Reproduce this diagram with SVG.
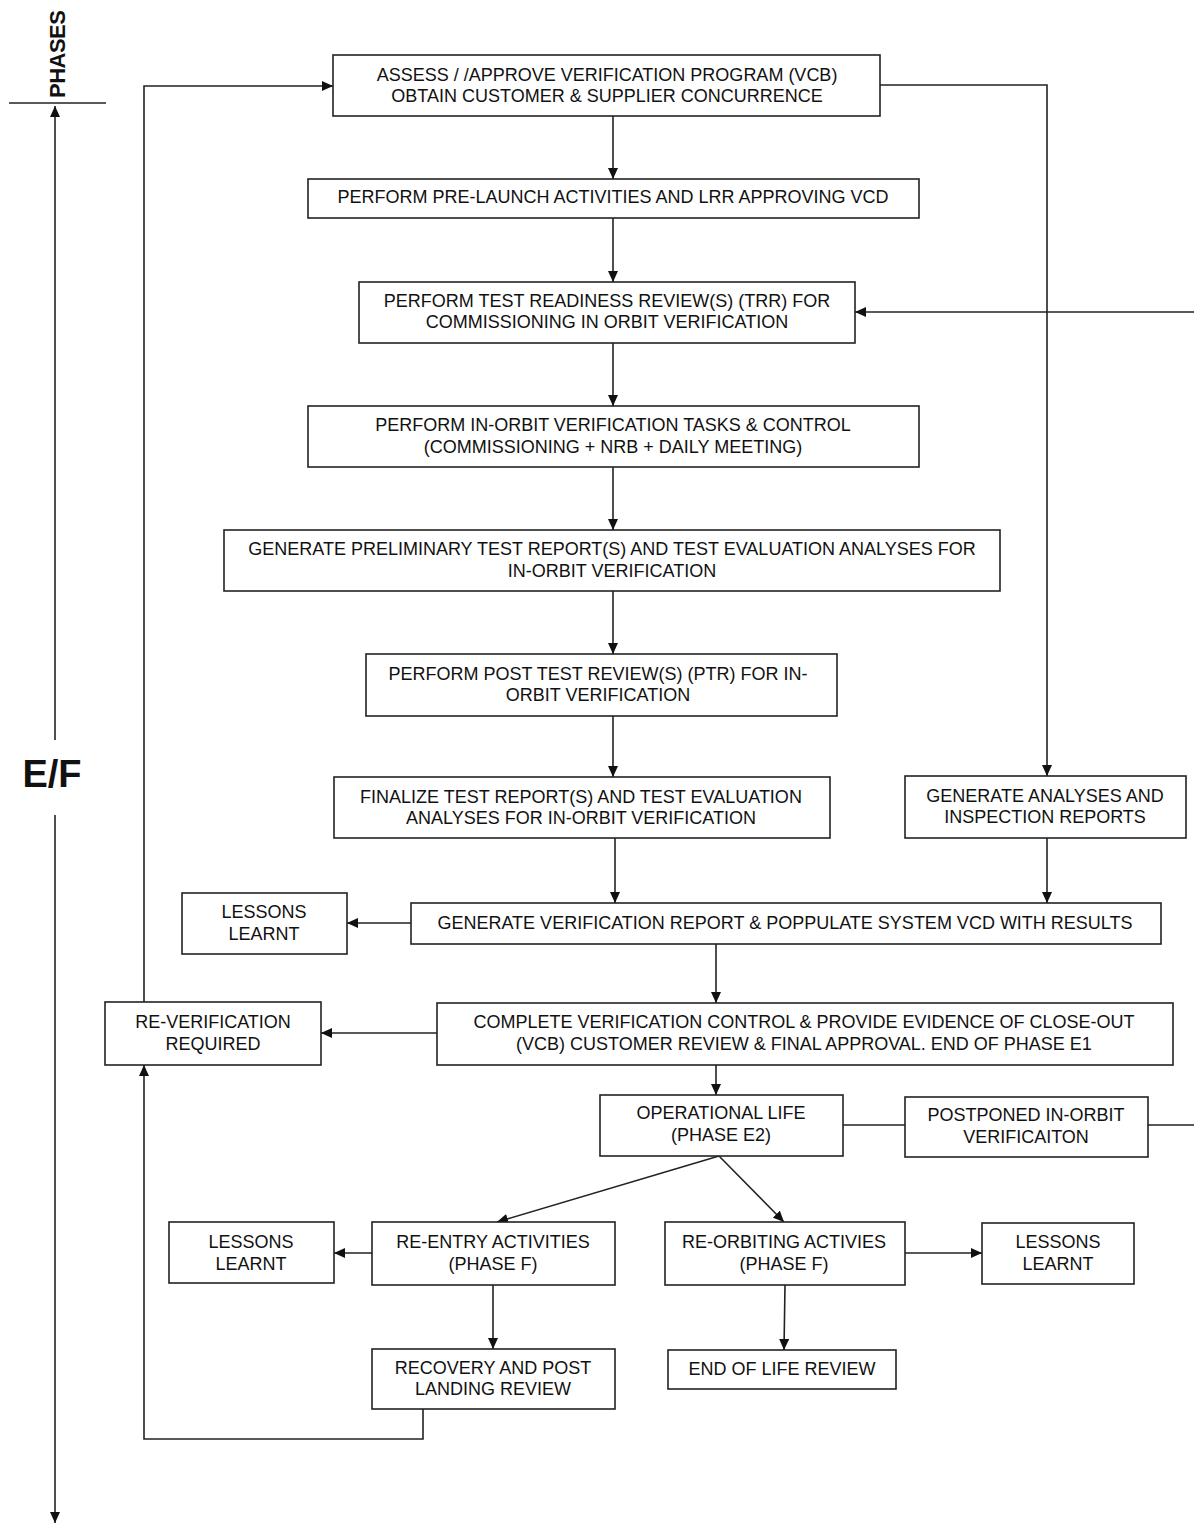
<svg xmlns="http://www.w3.org/2000/svg" width="1194" height="1524" viewBox="0 0 1194 1524">
<defs>
<style>
.box{fill:#fff;stroke:#222;stroke-width:1.6}
.t{font-family:"Liberation Sans",Arial,sans-serif;font-size:18px;fill:#111;text-anchor:middle}
.ln{fill:none;stroke:#222;stroke-width:1.6}
.big{font-family:"Liberation Sans",Arial,sans-serif;font-weight:bold;fill:#111}
</style>
<marker id="ah" markerUnits="userSpaceOnUse" markerWidth="11" markerHeight="10" refX="11" refY="5" orient="auto">
<path d="M0,0 L11,5 L0,10 z" fill="#111"/>
</marker>
</defs>
<rect width="1194" height="1524" fill="#fff"/>

<g id="axis">
<line class="ln" x1="9" y1="103" x2="106" y2="103"/>
<text class="big" font-size="22" transform="translate(65,54) rotate(-90)" text-anchor="middle" textLength="88">PHASES</text>
<line class="ln" x1="55" y1="740" x2="55" y2="106" marker-end="url(#ah)"/>
<line class="ln" x1="55" y1="815" x2="55" y2="1523" marker-end="url(#ah)"/>
<text class="big" font-size="38" x="52" y="787" text-anchor="middle">E/F</text>
</g>

<g id="connectors">
<line class="ln" x1="613" y1="116" x2="613" y2="179" marker-end="url(#ah)"/>
<line class="ln" x1="613" y1="218" x2="613" y2="282" marker-end="url(#ah)"/>
<line class="ln" x1="613" y1="343" x2="613" y2="406" marker-end="url(#ah)"/>
<line class="ln" x1="613" y1="467" x2="613" y2="530" marker-end="url(#ah)"/>
<line class="ln" x1="613" y1="591" x2="613" y2="654" marker-end="url(#ah)"/>
<line class="ln" x1="613" y1="716" x2="613" y2="777" marker-end="url(#ah)"/>
<line class="ln" x1="615" y1="838" x2="615" y2="903" marker-end="url(#ah)"/>
<polyline class="ln" points="880,85 1047,85 1047,776" marker-end="url(#ah)"/>
<line class="ln" x1="1047" y1="838" x2="1047" y2="903" marker-end="url(#ah)"/>
<line class="ln" x1="1194" y1="312" x2="855" y2="312" marker-end="url(#ah)"/>
<line class="ln" x1="411" y1="923" x2="347" y2="923" marker-end="url(#ah)"/>
<line class="ln" x1="716" y1="944" x2="716" y2="1003" marker-end="url(#ah)"/>
<line class="ln" x1="437" y1="1033" x2="321" y2="1033" marker-end="url(#ah)"/>
<line class="ln" x1="716" y1="1065" x2="716" y2="1095" marker-end="url(#ah)"/>
<polyline class="ln" points="144,1002 144,86 333,86" marker-end="url(#ah)"/>
<line class="ln" x1="843" y1="1125" x2="905" y2="1125"/>
<line class="ln" x1="1148" y1="1125" x2="1194" y2="1125"/>
<line class="ln" x1="719" y1="1156" x2="497" y2="1222" marker-end="url(#ah)"/>
<line class="ln" x1="719" y1="1156" x2="784" y2="1222" marker-end="url(#ah)"/>
<line class="ln" x1="372" y1="1253" x2="334" y2="1253" marker-end="url(#ah)"/>
<line class="ln" x1="905" y1="1253" x2="982" y2="1253" marker-end="url(#ah)"/>
<line class="ln" x1="493" y1="1285" x2="493" y2="1349" marker-end="url(#ah)"/>
<line class="ln" x1="785" y1="1285" x2="784" y2="1350" marker-end="url(#ah)"/>
<polyline class="ln" points="423,1405 423,1439 144,1439 144,1065" marker-end="url(#ah)"/>
</g>

<g id="n1"><rect class="box" x="333" y="55" width="547" height="61"/>
<text class="t" x="607" y="81">ASSESS / /APPROVE VERIFICATION PROGRAM (VCB)</text>
<text class="t" x="607" y="102">OBTAIN CUSTOMER &amp; SUPPLIER CONCURRENCE</text></g>

<g id="n2"><rect class="box" x="308" y="179" width="611" height="39"/>
<text class="t" x="613" y="203">PERFORM PRE-LAUNCH ACTIVITIES AND LRR APPROVING VCD</text></g>

<g id="n3"><rect class="box" x="359" y="282" width="496" height="61"/>
<text class="t" x="607" y="307">PERFORM TEST READINESS REVIEW(S) (TRR) FOR</text>
<text class="t" x="607" y="328">COMMISSIONING IN ORBIT VERIFICATION</text></g>

<g id="n4"><rect class="box" x="308" y="406" width="611" height="61"/>
<text class="t" x="613" y="431">PERFORM IN-ORBIT VERIFICATION TASKS &amp; CONTROL</text>
<text class="t" x="613" y="453">(COMMISSIONING + NRB + DAILY MEETING)</text></g>

<g id="n5"><rect class="box" x="224" y="530" width="776" height="61"/>
<text class="t" x="612" y="555">GENERATE PRELIMINARY TEST REPORT(S) AND TEST EVALUATION ANALYSES FOR</text>
<text class="t" x="612" y="577">IN-ORBIT VERIFICATION</text></g>

<g id="n6"><rect class="box" x="366" y="654" width="471" height="62"/>
<text class="t" x="598" y="680">PERFORM POST TEST REVIEW(S) (PTR) FOR IN-</text>
<text class="t" x="598" y="701">ORBIT VERIFICATION</text></g>

<g id="n7"><rect class="box" x="334" y="777" width="496" height="61"/>
<text class="t" x="581" y="803">FINALIZE TEST REPORT(S) AND TEST EVALUATION</text>
<text class="t" x="581" y="824">ANALYSES FOR IN-ORBIT VERIFICATION</text></g>

<g id="n8"><rect class="box" x="905" y="776" width="281" height="62"/>
<text class="t" x="1045" y="802">GENERATE ANALYSES AND</text>
<text class="t" x="1045" y="823">INSPECTION REPORTS</text></g>

<g id="n9"><rect class="box" x="411" y="903" width="750" height="41"/>
<text class="t" x="785" y="929">GENERATE VERIFICATION REPORT &amp; POPPULATE SYSTEM VCD WITH RESULTS</text></g>

<g id="n10"><rect class="box" x="182" y="893" width="165" height="61"/>
<text class="t" x="264" y="918">LESSONS</text>
<text class="t" x="264" y="940">LEARNT</text></g>

<g id="n11"><rect class="box" x="437" y="1003" width="736" height="62"/>
<text class="t" x="804" y="1028">COMPLETE VERIFICATION CONTROL &amp; PROVIDE EVIDENCE OF CLOSE-OUT</text>
<text class="t" x="804" y="1050">(VCB) CUSTOMER REVIEW &amp; FINAL APPROVAL. END OF PHASE E1</text></g>

<g id="n12"><rect class="box" x="105" y="1002" width="216" height="63"/>
<text class="t" x="213" y="1028">RE-VERIFICATION</text>
<text class="t" x="213" y="1050">REQUIRED</text></g>

<g id="n13"><rect class="box" x="600" y="1095" width="243" height="61"/>
<text class="t" x="721" y="1119">OPERATIONAL LIFE</text>
<text class="t" x="721" y="1141">(PHASE E2)</text></g>

<g id="n14"><rect class="box" x="905" y="1097" width="243" height="60"/>
<text class="t" x="1026" y="1121">POSTPONED IN-ORBIT</text>
<text class="t" x="1026" y="1143">VERIFICAITON</text></g>

<g id="n15"><rect class="box" x="169" y="1222" width="165" height="61"/>
<text class="t" x="251" y="1248">LESSONS</text>
<text class="t" x="251" y="1270">LEARNT</text></g>

<g id="n16"><rect class="box" x="372" y="1222" width="243" height="63"/>
<text class="t" x="493" y="1248">RE-ENTRY ACTIVITIES</text>
<text class="t" x="493" y="1270">(PHASE F)</text></g>

<g id="n17"><rect class="box" x="665" y="1222" width="240" height="63"/>
<text class="t" x="784" y="1248">RE-ORBITING ACTIVIES</text>
<text class="t" x="784" y="1270">(PHASE F)</text></g>

<g id="n18"><rect class="box" x="982" y="1223" width="152" height="61"/>
<text class="t" x="1058" y="1248">LESSONS</text>
<text class="t" x="1058" y="1270">LEARNT</text></g>

<g id="n19"><rect class="box" x="372" y="1349" width="243" height="60"/>
<text class="t" x="493" y="1374">RECOVERY AND POST</text>
<text class="t" x="493" y="1395">LANDING REVIEW</text></g>

<g id="n20"><rect class="box" x="668" y="1350" width="228" height="39"/>
<text class="t" x="782" y="1375">END OF LIFE REVIEW</text></g>
</svg>
